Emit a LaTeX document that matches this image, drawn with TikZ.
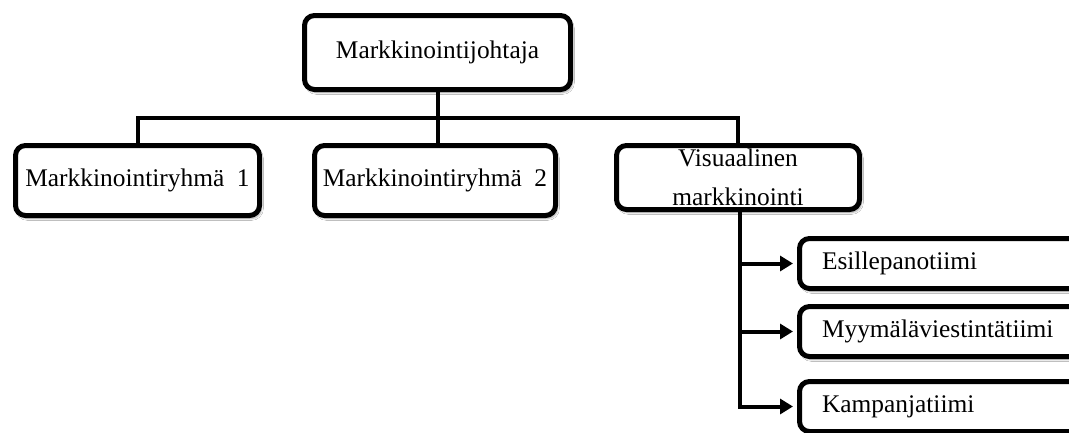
\documentclass[tikz,border=0pt]{standalone}
\usepackage{fontspec}
\setmainfont{Liberation Serif}
\usetikzlibrary{arrows.meta,shadows.blur}
\begin{document}
\begin{tikzpicture}[x=1pt,y=-1pt,
  box/.style={draw=black,line width=5pt,rounded corners=10pt,fill=white,inner sep=0pt,
    font=\fontsize{25.4}{39}\selectfont,
    blur shadow={shadow xshift=2pt,shadow yshift=-3pt,shadow blur steps=6,shadow opacity=35}},
  leaf/.style={box,anchor=west,minimum width=320pt,minimum height=50pt,text width=300pt,align=left},
  conn/.style={line width=4pt,line cap=rect},
  arr/.style={line width=4pt,shorten >=4pt,-{Triangle[length=13pt,width=15pt]}}]
\useasboundingbox (0,0) rectangle (1069,432);
\clip (0,0) rectangle (1069,432);
\fill[white] (0,0) rectangle (1069,432);
\node[box,minimum width=266pt,minimum height=74pt] (top) at (437.5,52.5) {Markkinointijohtaja};
\node[box,minimum width=244pt,minimum height=70pt] (g1) at (137.5,180.5) {Markkinointiryhmä\ \ 1};
\node[box,minimum width=241pt,minimum height=70pt] (g2) at (435,180.5) {Markkinointiryhmä\ \ 2};
\node[box,minimum width=243pt,minimum height=64pt,align=center] (vis) at (738,177.5) {Visuaalinen\\markkinointi};
\node[leaf] (e) at (797,263.5) {\hspace*{12.5pt}Esillepanotiimi};
\node[leaf] (m) at (797,331.5) {\hspace*{12.5pt}Myymäläviestintätiimi};
\node[leaf] (k) at (797,406.5) {\hspace*{12.5pt}Kampanjatiimi};
\coordinate (bus) at (437.5,118);
\draw[conn] (top.south) -- (top.south |- g2.north);
\draw[conn] (g1.north) |- (bus) -| (vis.north);
\draw[arr] ([xshift=2pt]vis.south) |- (k.west);
\draw[arr] ([xshift=2pt]vis.south |- e.west) -- (e.west);
\draw[arr] ([xshift=2pt]vis.south |- m.west) -- (m.west);
\end{tikzpicture}
\end{document}
